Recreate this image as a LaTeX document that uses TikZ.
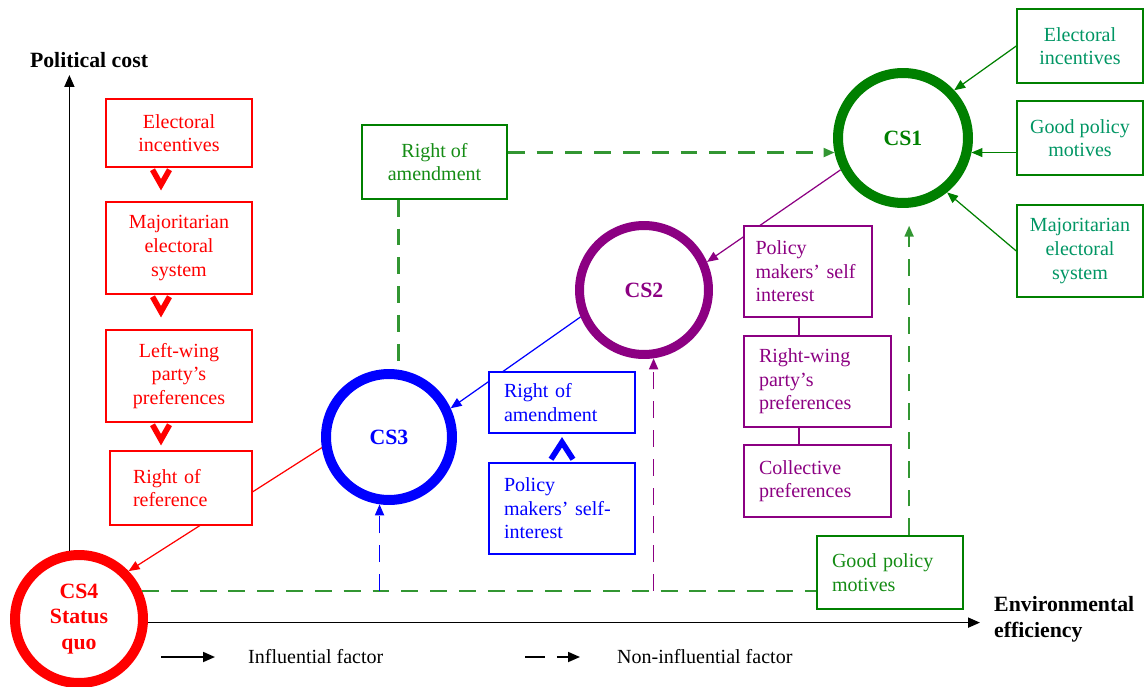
\documentclass[tikz,border=0pt]{standalone}
\usepackage{fontspec}
\setmainfont{Liberation Serif}
\usetikzlibrary{arrows.meta,backgrounds}
\definecolor{csred}{RGB}{255,0,0}
\definecolor{csblue}{RGB}{0,0,255}
\definecolor{cspurple}{RGB}{140,0,130}
\definecolor{csgreen}{RGB}{0,128,0}
\definecolor{csteal}{RGB}{0,150,100}
\definecolor{textgreen}{RGB}{20,140,20}
\definecolor{dashgreen}{RGB}{50,150,50}
\tikzset{
  every node/.style={font=\fontsize{11.4}{13.4}\selectfont},
  bold/.style={font=\fontsize{12.4}{14.6}\selectfont\bfseries},
  factor/.style={draw=#1, text=#1, line width=0.85pt, fill=white, inner sep=0pt, align=center},
  factorl/.style={factor=#1, align=left, inner xsep=0.3cm},
  cs/.style={circle, draw=#1, text=#1, fill=white, line width=0.2cm, inner sep=0pt, minimum size=2.52cm, align=center, bold},
  tip/.style={-{Triangle[length=0.22cm, width=0.18cm]}},
  inf/.style={line width=0.7pt, tip},
  noninf/.style={line width=1.2pt, dash pattern=on 9.6pt off 6.8pt},
  chev/.style={line width=3.2pt, miter limit=10},
  axisline/.style={line width=1pt, -{Triangle[length=0.24cm, width=0.2cm]}}
}

\begin{document}
\begin{tikzpicture}[x=0.02cm, y=-0.02cm]
          \useasboundingbox (0, 0) rectangle (1145, 686);

          \node [cs=csred, minimum size=2.56cm] (cs4) at (79, 619) {CS4\\Status\\quo};
          \node [cs=csblue] (cs3) at (389, 437) {CS3};
          \node [cs=cspurple, minimum size=2.58cm, line width=0.18cm] (cs2) at (644, 290) {CS2};
          \node [cs=csgreen, minimum size=2.6cm] (cs1) at (903, 138) {CS1};

          \node [factor=csred, minimum width=2.92cm, minimum height=1.36cm] (r1) at (179, 133) {Electoral\\incentives};
          \node [factor=csred, minimum width=2.92cm, minimum height=1.84cm] (r2) at (179, 248) {Majoritarian\\electoral\\system};
          \node [factor=csred, minimum width=2.92cm, minimum height=1.84cm] (r3) at (179, 376) {Left-wing\\party’s\\preferences};
          \node [factorl=csred, inner xsep=0.46cm, text width=1.92cm, minimum height=1.48cm] (r4) at (181, 488) {Right of\\reference};
          \foreach \a in {r1, r2, r3}
            \draw [chev, csred] ([xshift=-0.36cm]\a.south) ++(-8.5, 2) -- ++(8.5, 15) -- ++(8.5, -15);

          \node [factorl=csblue, text width=2.32cm, minimum height=1.22cm] (b1) at (562, 402.5) {Right of\\amendment};
          \node [factorl=csblue, text width=2.32cm, minimum height=1.82cm] (b2) at (562, 508.5) {Policy\\makers’ self-\\interest};
          \draw [chev, csblue] (b2.north) ++(-11, -3) -- ++(11, -17) -- ++(11, 17);

          \node [factorl=cspurple, inner xsep=0.23cm, text width=2.1cm, minimum height=1.82cm] (p1) at (808, 271.5) {Policy\\makers’ self\\interest};
          \node [factorl=cspurple, text width=2.34cm, minimum height=1.82cm] (p2) at (817.5, 381.5) {Right-wing\\party’s\\preferences};
          \node [factorl=cspurple, text width=2.34cm, minimum height=1.44cm] (p3) at (817.5, 481) {Collective\\preferences};
          \draw [cspurple, line width=0.85pt] ([xshift=-0.18cm]p1.south) -- ([xshift=-0.18cm]p1.south |- p2.north);
          \draw [cspurple, line width=0.85pt] ([xshift=-0.18cm]p1.south |- p2.south) -- ([xshift=-0.18cm]p1.south |- p3.north);

          \node [factor=csgreen, text=csteal, minimum width=2.52cm, minimum height=1.48cm] (g1) at (1080, 46) {Electoral\\incentives};
          \node [factor=csgreen, text=csteal, minimum width=2.52cm, minimum height=1.48cm] (g2) at (1080, 138) {Good policy\\motives};
          \node [factor=csgreen, text=csteal, minimum width=2.52cm, minimum height=1.84cm] (g3) at (1080, 251) {Majoritarian\\electoral\\system};
          \node [factor=csgreen, text=textgreen, minimum width=2.9cm, minimum height=1.48cm] (ga) at (434.5, 162) {Right of\\amendment};
          \node [factorl=csgreen, text=textgreen, text width=2.32cm, minimum height=1.46cm] (gb) at (890, 572.5) {Good policy\\motives};

          \begin{scope}[on background layer]
            \draw [inf, csred] (cs3.189) -- (cs4.44);
            \draw [inf, csblue] (cs2.203) -- (cs3.25);
            \draw [inf, cspurple] (cs1.207) -- (cs2.24);
          \end{scope}

          \draw [inf, csgreen] (g1.west) -- (cs1.43);
          \draw [inf, csgreen] (cs1.-12 -| g2.west) -- (cs1.-12);
          \draw [inf, csgreen] (g3.west) -- (cs1.-51);

          \coordinate (base) at (cs4.24);
          \draw [noninf, dashgreen, tip] (cs1.-168 -| ga.east) -- (cs1.-168);
          \draw [noninf, dashgreen] (cs3.82 |- ga.south) -- (cs3.82);
          \draw [noninf, dashgreen] (base) -- (base -| gb.west);
          \draw [noninf, csblue, line width=1pt, tip] (cs3.262 |- base) -- (cs3.262);
          \draw [noninf, cspurple, line width=1pt, tip] (cs2.278 |- base) -- (cs2.278);
          \draw [noninf, dashgreen, tip] (gb.north -| cs1.275) -- ([yshift=-0.36cm]cs1.275);

          \node [bold] (ylab) at (89, 60) {Political cost};
          \node [bold, anchor=west, align=left] (xlab) at (988, 619) {Environmental\\efficiency};
          \coordinate (ytip) at (70, 75);
          \coordinate (xtip) at (980, 623);
          \draw [axisline] (cs4.98) -- (cs4.98 |- ytip);
          \draw [axisline] (cs4.-3) -- (cs4.-3 -| xtip);

          \node [anchor=west] (leg1) at (242, 657) {Influential factor};
          \node [anchor=west] (leg2) at (611, 657) {Non-influential factor};
          \draw [axisline] ([xshift=-1.62cm]leg1.west) -- ([xshift=-0.54cm]leg1.west);
          \draw [axisline, dash pattern=on 11.3pt off 6.8pt] ([xshift=-1.72cm]leg2.west) -- ([xshift=-0.62cm]leg2.west);
\end{tikzpicture}
\end{document}
